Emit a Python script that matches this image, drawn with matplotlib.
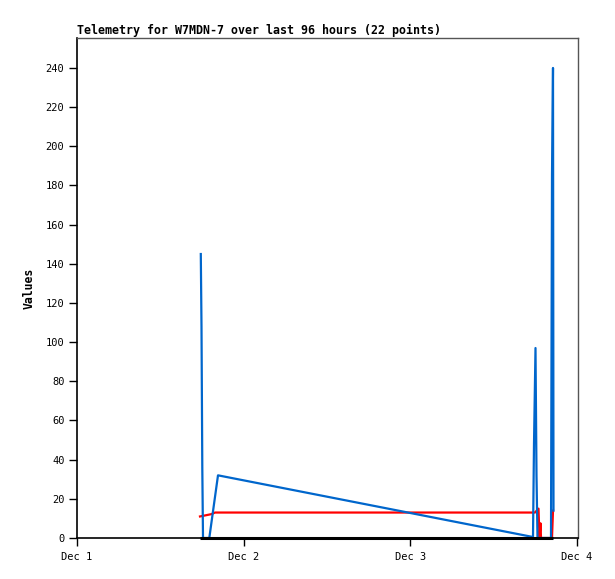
import matplotlib
matplotlib.use("Agg")
import matplotlib.pyplot as plt

# ---- data (time in days since Dec 1 00:00) ----
px_day = 500 / 3.0
def t(x):
    return (x - 77) / px_day

blue_x = [200.8, 201.5, 202.3, 203.0, 209.3, 218.0, 533.0, 534.0, 535.5, 536.5, 537.5, 551.0, 552.0, 553.0, 553.5]
blue_v = [145, 108, 36, 0, 0, 32, 0.5, 48, 97, 32, 0, 0, 185, 240, 14]
red_x = [200.0, 203.0, 211.5, 215.0, 535.0, 538.5, 539.5, 540.5, 541.0, 552.0, 553.0]
red_v = [11, 11.3, 12.2, 13, 13, 15, 0, 7.5, 0, 0, 14]
black_x = [200.0, 553.0]
black_v = [0, 0]

blue_t = [t(x) for x in blue_x]
red_t = [t(x) for x in red_x]
black_t = [t(x) for x in black_x]

xtick_pos = [0, 1, 2, 3]
xtick_labels = ["Dec 1", "Dec 2", "Dec 3", "Dec 4"]
ytick_pos = list(range(0, 241, 20))

W, H = 615, 579
fig = plt.figure(figsize=(W / 100, H / 100), dpi=100)
ax = fig.add_axes([77 / W, 1 - 538 / H, 501 / W, 500 / H])

mono = "DejaVu Sans Mono"
ax.plot(red_t, red_v, color="#ff0000", lw=1.6, zorder=2)
ax.plot(blue_t, blue_v, color="#0066cc", lw=1.6, zorder=3)
ax.plot(black_t, black_v, color="black", lw=2.2, zorder=4, solid_capstyle="butt", clip_on=False)

ax.set_xlim(0, 3.006)
ax.set_ylim(0, 255.3)
ax.set_xticks(xtick_pos)
ax.set_xticklabels(xtick_labels, fontfamily=mono, fontsize=7.5)
ax.set_yticks(ytick_pos)
ax.set_yticklabels([str(v) for v in ytick_pos], fontfamily=mono, fontsize=7.5)
ax.tick_params(axis="both", direction="out", length=6, width=1, color="black", pad=3)
ax.tick_params(axis="x", pad=4)

for s in ["top", "right"]:
    ax.spines[s].set_color("#555555")
    ax.spines[s].set_linewidth(1)
for s in ["left", "bottom"]:
    ax.spines[s].set_color("black")
    ax.spines[s].set_linewidth(1.2)

ax.set_ylabel("Values", fontfamily=mono, fontsize=8.3, fontweight="bold", labelpad=7)
ax.set_title("Telemetry for W7MDN-7 over last 96 hours (22 points)", loc="left",
             fontfamily=mono, fontsize=8.4, fontweight="bold", pad=3)

fig.savefig("out.png", dpi=100, facecolor="white")
